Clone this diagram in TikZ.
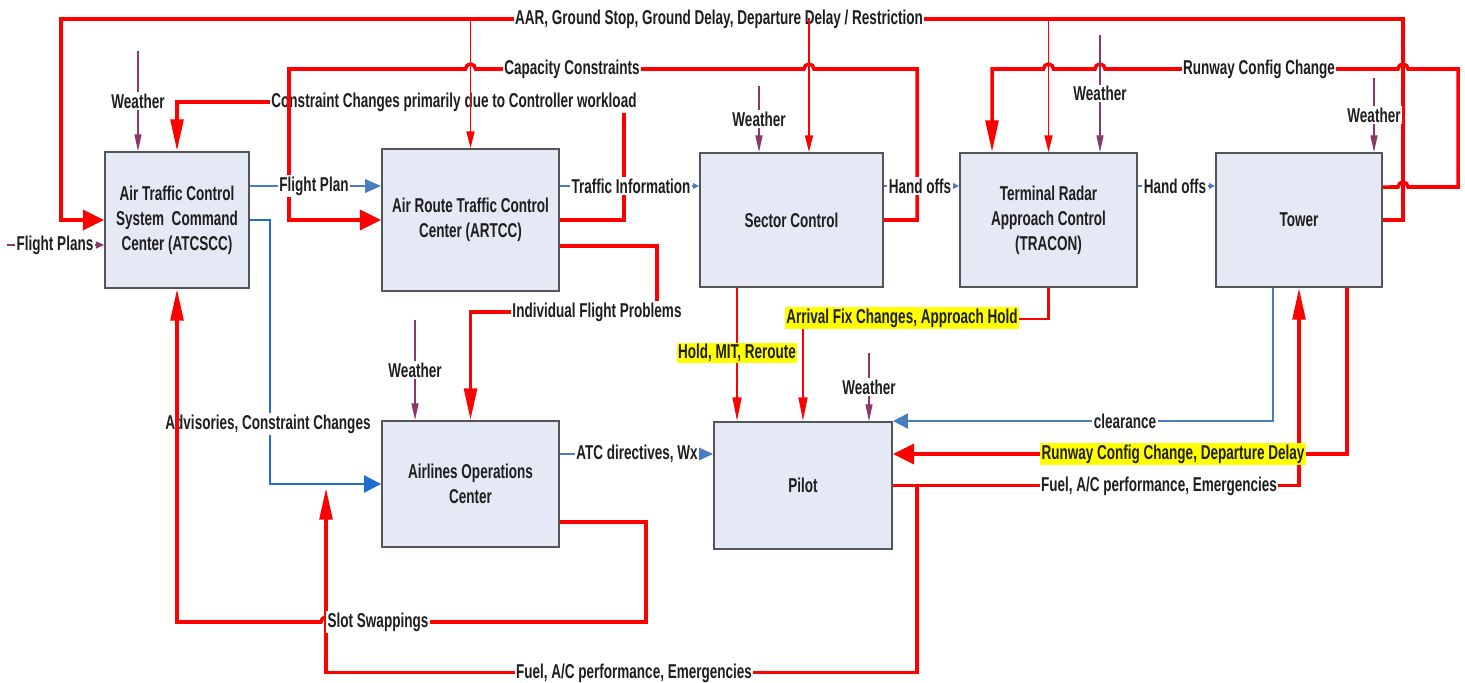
\documentclass[tikz,border=0pt]{standalone}
\usepackage{fontspec}
\setmainfont{Liberation Sans}[FakeStretch=0.675]
\usetikzlibrary{arrows.meta,calc}
\definecolor{boxfill}{RGB}{228,233,245}
\definecolor{boxline}{RGB}{85,85,85}
\definecolor{flowred}{RGB}{255,0,0}
\definecolor{flowblue}{RGB}{72,125,195}
\definecolor{advblue}{RGB}{30,110,210}
\definecolor{wxpurple}{RGB}{140,55,105}
\definecolor{hilite}{RGB}{255,255,0}
\definecolor{txt}{RGB}{30,30,30}

\tikzset{
  box/.style={draw=boxline, fill=boxfill, line width=1.1pt, align=center, inner sep=2pt},
  lbl/.style={fill=white, inner sep=0.8pt},
  hl/.style={fill=hilite, inner sep=0.8pt},
  thickred/.style={draw=flowred, line width=2pt},
  thinred/.style={draw=flowred, line width=1.2pt},
  branchred/.style={draw=flowred, line width=0.8pt},
  blueline/.style={draw=flowblue, line width=1.3pt},
  advline/.style={draw=advblue, line width=1.2pt},
  clrline/.style={draw=flowblue, line width=1pt},
  wxline/.style={draw=wxpurple, line width=0.7pt},
  bigh/.tip={Triangle[length=12pt,width=11.4pt]},
  bigv/.tip={Triangle[length=18pt,width=7.2pt]},
  medv/.tip={Triangle[length=13.5pt,width=5pt]},
  smallv/.tip={Triangle[length=9.5pt,width=4.6pt]},
  wxv/.tip={Triangle[length=9.5pt,width=4pt]},
  wxh/.tip={Triangle[length=4.6pt,width=4pt]},
  fph/.tip={Triangle[length=9pt,width=7.5pt]},
  advh/.tip={Triangle[length=9.7pt,width=9.7pt]},
  atch/.tip={Triangle[length=8.5pt,width=7.5pt]},
  clrh/.tip={Triangle[length=8.5pt,width=8.5pt]},
  tinyh/.tip={Triangle[length=3.4pt,width=3.2pt]}
}

\begin{document}
\begin{tikzpicture}[x=0.02cm, y=-0.02cm, font=\fontsize{11.4}{14.2}\selectfont\bfseries, text=txt]

\fill[white] (0,0) rectangle (1465,683);
\useasboundingbox (0,0) rectangle (1465,683);

% the seven units
\node[box, minimum width=2.88cm, minimum height=2.72cm] (atcscc) at (177,220) {Air Traffic Control\\System\ \ Command\\Center (ATCSCC)};
\node[box, minimum width=3.54cm, minimum height=2.84cm] (artcc) at (470.5,220) {Air Route Traffic Control\\Center (ARTCC)};
\node[box, minimum width=3.66cm, minimum height=2.68cm] (sector) at (791.5,220) {Sector Control};
\node[box, minimum width=3.54cm, minimum height=2.68cm] (tracon) at (1048.5,220) {Terminal Radar\\Approach Control\\(TRACON)};
\node[box, minimum width=3.32cm, minimum height=2.68cm] (tower) at (1299,220) {Tower};
\node[box, minimum width=3.54cm, minimum height=2.52cm] (aoc) at (470.5,484) {Airlines Operations\\Center};
\node[box, minimum width=3.56cm, minimum height=2.54cm] (pilot) at (803,485.5) {Pilot};

\coordinate (aar) at (0,19);

% loops over the top
\draw[thickred,-{bigv}] (artcc.east) -| (624,102) -| (atcscc.north);
\node[lbl] (ccwlbl) at (454,102) {Constraint Changes primarily due to Controller workload};

\draw[thickred,-{bigh}] (tower.east) -| (1403,19) -| (61,220) -- (atcscc.west);
\node[lbl] (aarlbl) at (719,19) {AAR, Ground Stop, Ground Delay, Departure Delay / Restriction};
\draw[branchred,-{smallv}] (artcc.north |- aar) -- (artcc.north);
\draw[branchred,{smallv}-] ([xshift=0.35cm]sector.north) -- ++(0,-134);
\draw[branchred,-{smallv}] (tracon.north |- aar) -- (tracon.north);

\draw[thickred,-{bigh}] (sector.east) -| (917,69) -- (814,69)
  arc[start angle=0,end angle=-180,radius=5] -- (475.5,69)
  arc[start angle=0,end angle=-180,radius=5] -- (289,69) |- (artcc.west);
\node[lbl] (caplbl) at (572,69) {Capacity Constraints};

\draw[thickred,-{bigv}] ([yshift=0.66cm]tower.east) -- (1398,187)
  arc[start angle=180,end angle=360,radius=5] -- (1458,187) -- (1458,69) -- (1408,69)
  arc[start angle=0,end angle=-180,radius=5] -- (1105,69)
  arc[start angle=0,end angle=-180,radius=5] -- (1053.5,69)
  arc[start angle=0,end angle=-180,radius=5] -- (992,69) -- ([xshift=-1.13cm]tracon.north);
\node[lbl] (rwylbl) at (1259,69) {Runway Config Change};

% weather inputs
\foreach \nd/\dx/\len in {atcscc/-0.78/100, sector/-0.65/66, tracon/1.03/117, tower/1.5/74, aoc/-1.11/100, pilot/1.32/68}
  \draw[wxline,{wxv}-] ([xshift=\dx cm]\nd.north) -- ++(0,-\len) node[lbl, midway] (wx\nd) {Weather};

\coordinate (fpsrc) at (7,245);
\draw[wxline,-{wxh}] (fpsrc) -- (atcscc.west |- fpsrc);
\node[lbl] (fplanslbl) at (55,245) {Flight Plans};

% lower part
\draw[thickred,-{bigv}] ([yshift=-0.52cm]artcc.east) -| (657,312) -| (aoc.north);
\node[lbl] (ifplbl) at (597,312) {Individual Flight Problems};

\coordinate (hmit) at ([xshift=-1.09cm]sector.south);
\draw[thinred,-{medv}] (hmit) -- (hmit |- pilot.north);
\draw[thinred,-{medv}] (tracon.south) -- ++(0,31) -| (pilot.north);
\node[hl] (afclbl) at (902,318) {Arrival Fix Changes, Approach Hold};
\node[hl] (hmitlbl) at (737,353) {Hold, MIT, Reroute};

\coordinate (clr) at ([xshift=-0.52cm]tower.south);
\draw[clrline,-{clrh}] (clr) |- (pilot.north east);
\coordinate (rdd) at ([xshift=0.96cm]tower.south);
\coordinate (rddin) at ([yshift=0.63cm]pilot.east);
\draw[thickred,-{bigh}] (rdd) |- (rddin);
\draw[thickred,-{bigv}] (pilot.east) -| (tower.south);
\node[lbl] (clrlbl) at (1125,421) {clearance};
\node[hl] (rddlbl) at (1173,454) {Runway Config Change, Departure Delay};
\node[lbl] (fuel1lbl) at (1159,486) {Fuel, A/C performance, Emergencies};

\coordinate (fjoin) at ([xshift=0.48cm]pilot.east);
\coordinate (advjoin) at (326,488);
\draw[thickred,-{bigv}] (fjoin) -- ++(0,187) -| (advjoin);
\node[lbl] (fuel2lbl) at (634,673) {Fuel, A/C performance, Emergencies};

% blue flows
\draw[blueline,-{fph}] ([yshift=0.68cm]atcscc.east) -- ([yshift=0.68cm]artcc.west);
\draw[advline,-{advh}] (atcscc.east) -- ++(20,0) |- (aoc.west);
\draw[clrline,-{tinyh}] ([yshift=0.68cm]artcc.east) -- ([yshift=0.68cm]sector.west);
\draw[clrline,-{tinyh}] ([yshift=0.68cm]sector.east) -- ([yshift=0.68cm]tracon.west);
\draw[clrline,-{tinyh}] ([yshift=0.68cm]tracon.east) -- ([yshift=0.68cm]tower.west);
\coordinate (atcout) at ([yshift=0.6cm]aoc.east);
\draw[blueline,-{atch}] (atcout) -- (pilot.west |- atcout);
\node[lbl] (fplbl) at (314,186) {Flight Plan};
\node[lbl] (tilbl) at (631,186) {Traffic Information};
\node[lbl] (ho1lbl) at (920,186) {Hand offs};
\node[lbl] (ho2lbl) at (1175,186) {Hand offs};
\node[lbl] (atclbl) at (637,454) {ATC directives, Wx};
\node[lbl] (advlbl) at (268,424) {Advisories, Constraint Changes};

% slot swapping back to the command center
\draw[thickred,-{bigv}] ([yshift=-0.76cm]aoc.east) -| (646,622) -- (331,622)
  arc[start angle=0,end angle=-180,radius=5] -| (atcscc.south);
\node[lbl] (slotlbl) at (378,622) {Slot Swappings};

\end{tikzpicture}
\end{document}
